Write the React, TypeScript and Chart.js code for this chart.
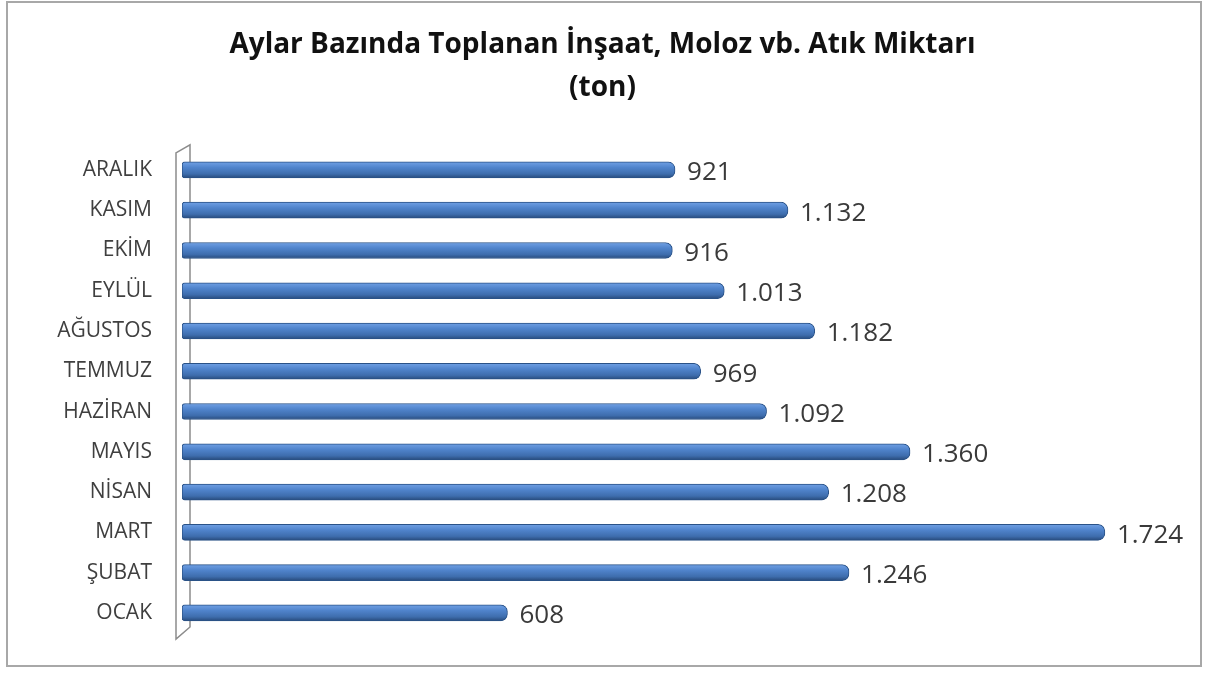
import React, { useEffect, useRef } from "react";
import { Chart, registerables } from "chart.js";

Chart.register(...registerables);

const titleLines = ["Aylar Bazında Toplanan İnşaat, Moloz vb. Atık Miktarı", "(ton)"];
const months = ["OCAK", "ŞUBAT", "MART", "NİSAN", "MAYIS", "HAZİRAN", "TEMMUZ", "AĞUSTOS", "EYLÜL", "EKİM", "KASIM", "ARALIK"];
const tonnes = [608, 1246, 1724, 1208, 1360, 1092, 969, 1182, 1013, 916, 1132, 921];

function fmt(v: number): string {
  const s = String(Math.round(v));
  return s.replace(/\B(?=(\d{3})+(?!\d))/g, ".");
}

const wallPlugin = {
  id: "wall",
  beforeDatasetsDraw(chart: any) {
    const { ctx, chartArea } = chart;
    const l = chartArea.left;
    const t = chartArea.top;
    const b = chartArea.bottom;
    ctx.save();
    ctx.strokeStyle = "#8c8c8c";
    ctx.lineWidth = 1.5;
    ctx.beginPath();
    ctx.moveTo(l - 6, t + 3);
    ctx.lineTo(l + 8, t - 5);
    ctx.lineTo(l + 8, b - 6);
    ctx.lineTo(l - 6, b + 6);
    ctx.closePath();
    ctx.stroke();
    ctx.restore();
  },
};

const labelPlugin = {
  id: "valueLabels",
  afterDatasetsDraw(chart: any) {
    const { ctx } = chart;
    const meta = chart.getDatasetMeta(0);
    ctx.save();
    ctx.font = "26px 'Open Sans'";
    ctx.fillStyle = "#3a3a3a";
    ctx.textAlign = "left";
    ctx.textBaseline = "middle";
    meta.data.forEach((el: any, i: number) => {
      const v = chart.data.datasets[0].data[i];
      ctx.fillText(fmt(v), el.x + 12, el.y + 3);
    });
    ctx.restore();
  },
};

export default function App() {
  const ref = useRef<HTMLCanvasElement | null>(null);

  useEffect(() => {
    if (!ref.current) return;
    const chart = new Chart(ref.current, {
      type: "bar",
      data: {
        labels: months,
        datasets: [
          {
            data: tonnes,
            barThickness: 16,
            borderWidth: 1,
            borderColor: "#2a5287",
            borderSkipped: false,
            borderRadius: { topLeft: 3, bottomLeft: 3, topRight: 7, bottomRight: 7 },
            backgroundColor: (c: any) => {
              const ch = c.chart;
              const ys = ch.scales && ch.scales.y;
              if (!ys || !ch.chartArea) return "#4f81bd";
              const y = ys.getPixelForValue(c.dataIndex);
              const g = ch.ctx.createLinearGradient(0, y - 8, 0, y + 8);
              g.addColorStop(0, "#70a0e4");
              g.addColorStop(0.35, "#5084cc");
              g.addColorStop(0.75, "#3e6dad");
              g.addColorStop(1, "#284b7c");
              return g;
            },
          },
        ],
      },
      options: {
        indexAxis: "y",
        animation: false,
        responsive: false,
        maintainAspectRatio: false,
        layout: { padding: { left: 0, right: 0, top: 0, bottom: 40 } },
        plugins: {
          legend: { display: false },
          tooltip: { enabled: false },
          title: {
            display: true,
            text: titleLines,
            color: "#111111",
            font: { family: "'Open Sans'", size: 28, weight: "bold", lineHeight: 1.55 },
            padding: { top: 23, bottom: 40 },
          },
        },
        scales: {
          x: {
            display: false,
            min: 0,
            max: 1911,
          },
          y: {
            reverse: true,
            grid: { display: false },
            border: { display: false },
            ticks: {
              color: "#3f3f3f",
              padding: 22,
              font: { family: "'Open Sans'", size: 21 },
            },
            afterFit: (s: any) => {
              s.width = 182;
            },
          },
        },
      },
      plugins: [wallPlugin, labelPlugin],
    } as any);
    return () => chart.destroy();
  }, []);

  return (
    <div style={{ position: "absolute", left: 0, top: 0, width: 1205, height: 673, background: "#ffffff" }}>
      <canvas ref={ref} width={1205} height={673} style={{ display: "block" }} />
      <div
        style={{
          position: "absolute",
          left: 6,
          top: 1,
          width: 1192,
          height: 662,
          border: "2px solid #a8a8a8",
          pointerEvents: "none",
        }}
      />
    </div>
  );
}
